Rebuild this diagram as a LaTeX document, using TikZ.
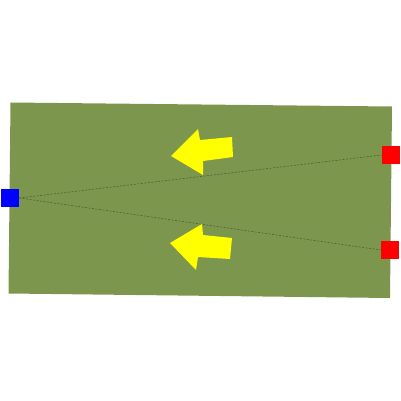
\documentclass[tikz,border=0pt]{standalone}
\definecolor{field}{RGB}{125,150,78}
\definecolor{dashc}{RGB}{70,90,45}
\definecolor{arrowy}{RGB}{255,255,0}
\begin{document}
\begin{tikzpicture}[x=1pt,y=-1pt,
  sq/.style={minimum size=18pt,inner sep=0pt,draw=none},
  ray/.style={draw=dashc,dash pattern=on 2pt off 1.5pt,line width=0.5pt},
  bigarrow/.style={fill=arrowy,draw=none}]
\useasboundingbox (0,0) rectangle (401,401);
\fill[field] (10.5,102.5) -- (392,106.5) -- (390,298) -- (8.5,293.5) -- cycle;
\node[sq,fill=blue] (src) at (10,198) {};
\node[sq,fill=red] (r1) at (391,155) {};
\node[sq,fill=red] (r2) at (390,250) {};
\draw[ray] (src.east) -- (r1.west);
\draw[ray] (src.east) -- (r2.west);
\fill[bigarrow] (171,156) -- (198,129) -- (200,140) -- (232,137) -- (233,157) -- (203,161) -- (203,175) -- cycle;
\fill[bigarrow] (170,243) -- (202,224) -- (203,235) -- (232,238) -- (230,259) -- (198,257) -- (196,270) -- cycle;
\end{tikzpicture}
\end{document}
